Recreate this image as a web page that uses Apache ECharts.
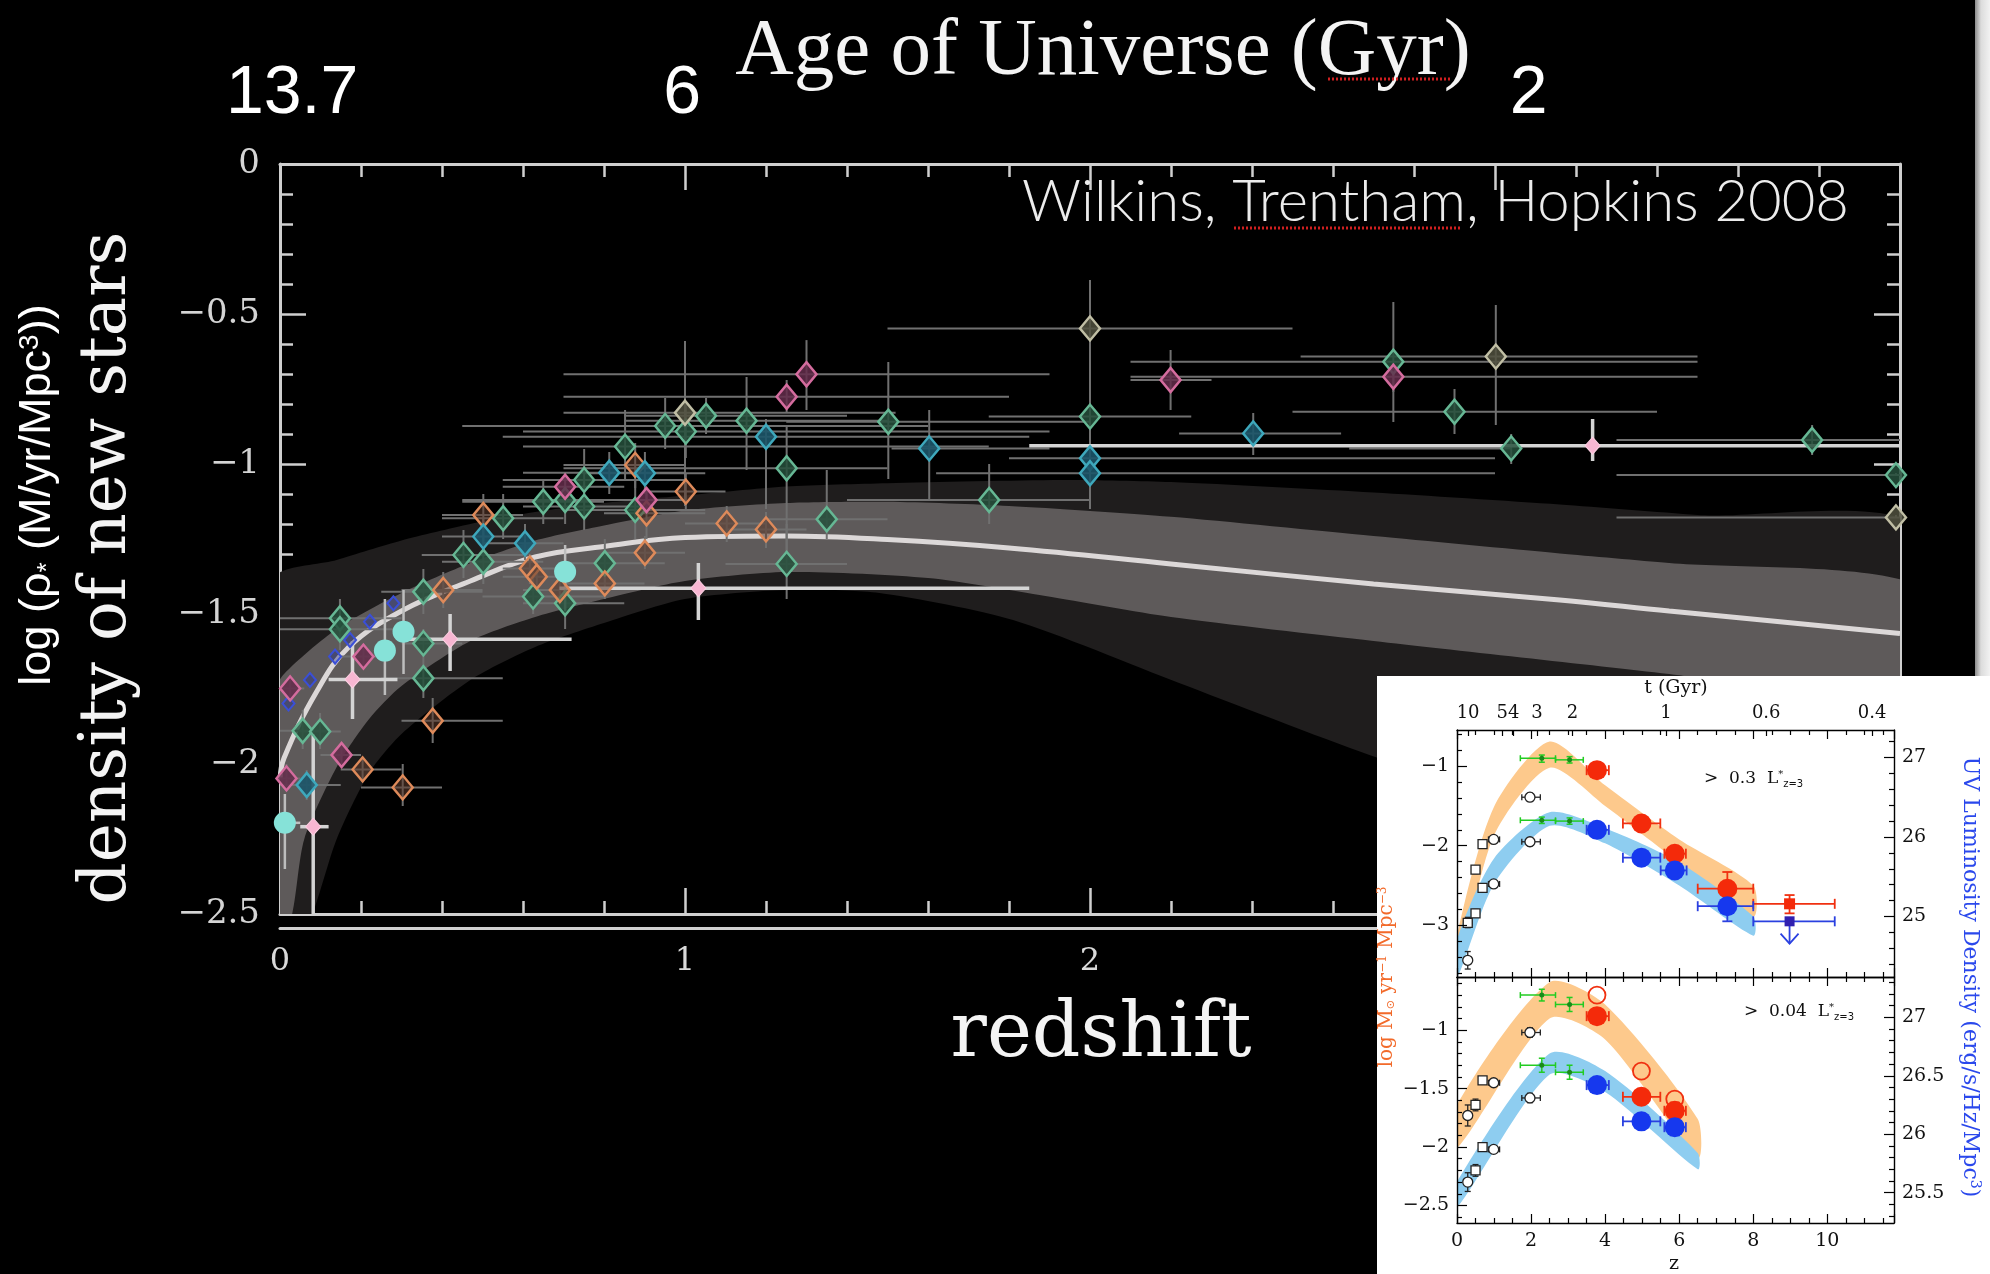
<!DOCTYPE html>
<html><head><meta charset="utf-8">
<script src="https://cdn.jsdelivr.net/npm/echarts@6/dist/echarts.min.js"></script>
<style>html,body{margin:0;padding:0;background:#000;}#c{width:1990px;height:1274px;}</style>
</head><body><div id="c"></div>
<script>
// ================= MAIN CHART DATA =================
const ageTickZ = [0.03, 0.993, 3.083];
const ageTickLabels = ['13.7', '6', '2'];

// uncertainty bands [z, log rho]
const outerBandUpper = [[-0.02,-1.39],[0.14,-1.32],[0.3,-1.255],[0.47,-1.2],[0.63,-1.16],[0.8,-1.13],[1.0,-1.105],[1.25,-1.075],[1.5,-1.064],[1.93,-1.053],[2.2,-1.06],[2.7,-1.095],[3.16,-1.135],[3.5,-1.17],[4.05,-1.225]];
const outerBandLower = [[-0.02,-2.8],[0.08,-2.5],[0.14,-2.25],[0.22,-2.03],[0.3,-1.9],[0.47,-1.72],[0.63,-1.61],[0.8,-1.53],[1.0,-1.45],[1.25,-1.42],[1.48,-1.43],[1.81,-1.52],[2.22,-1.73],[2.69,-1.97],[3.2,-2.2],[3.8,-2.45],[4.05,-2.55]];
const innerBandUpper = [[-0.02,-1.78],[0.01,-1.70],[0.14,-1.55],[0.3,-1.43],[0.47,-1.33],[0.63,-1.255],[0.8,-1.205],[1.0,-1.155],[1.25,-1.13],[1.5,-1.126],[1.8,-1.14],[2.2,-1.176],[2.7,-1.24],[3.16,-1.298],[3.43,-1.33],[4.05,-1.41]];
const innerBandLower = [[-0.02,-2.7],[0.03,-2.5],[0.06,-2.25],[0.14,-2.01],[0.22,-1.85],[0.3,-1.74],[0.47,-1.59],[0.63,-1.51],[0.8,-1.45],[1.0,-1.39],[1.25,-1.36],[1.6,-1.38],[1.89,-1.44],[2.2,-1.51],[2.7,-1.59],[3.43,-1.70],[4.05,-1.80]];
const fitLine = [[0,-2.05],[0.01,-1.98],[0.09,-1.76],[0.17,-1.61],[0.3,-1.49],[0.47,-1.39],[0.63,-1.31],[0.8,-1.275],[1.0,-1.245],[1.25,-1.24],[1.5,-1.252],[1.8,-1.28],[2.2,-1.333],[2.7,-1.40],[3.16,-1.453],[3.43,-1.49],[4.0,-1.565]];

// points: [z, value, zLow, zHigh, valueLow, valueHigh]
const greenDiamonds = [
 [0.704,-1.120,0.45,0.95,-1.20,-1.04],[0.751,-1.053,0.55,1.00,-1.15,-0.95],[0.751,-1.142,0.60,0.90,-1.22,-1.06],
 [0.852,-0.942,0.60,1.75,-1.05,-0.82],[0.877,-1.153,0.70,1.05,-1.25,-1.05],[0.951,-0.873,0.45,1.60,-0.95,-0.78],
 [1.002,-0.892,0.60,1.90,-0.98,-0.80],[1.052,-0.839,0.85,1.40,-0.90,-0.78],[1.152,-0.856,0.85,1.50,-1.02,-0.71],
 [1.251,-1.014,0.70,1.50,-1.30,-0.87],[1.350,-1.184,1.20,1.50,-1.25,-1.02],[1.251,-1.333,1.10,1.40,-1.45,-1.20],
 [0.802,-1.331,0.70,0.95,-1.40,-1.25],[1.502,-0.859,1.25,2.00,-1.05,-0.66],[1.751,-1.120,1.40,2.00,-1.20,-1.00],
 [2.000,-0.842,1.75,2.25,-1.00,-0.70],[2.749,-0.659,2.10,3.50,-0.86,-0.46],[2.900,-0.826,2.50,3.40,-0.90,-0.75],
 [3.040,-0.948,2.64,3.04,-1.00,-0.90],[3.783,-0.920,3.30,4.00,-0.97,-0.87],[3.990,-1.037,3.30,4.00,-1.04,-1.03],
 [0.650,-1.126,0.45,0.80,-1.20,-1.05],[0.551,-1.181,0.40,0.70,-1.25,-1.10],[0.453,-1.303,0.35,0.60,-1.38,-1.22],
 [0.502,-1.326,0.40,0.65,-1.40,-1.25],[0.625,-1.442,0.50,0.80,-1.50,-1.35],[0.704,-1.464,0.60,0.85,-1.55,-1.40],
 [0.354,-1.426,0.25,0.50,-1.50,-1.35],[0.148,-1.514,0.00,0.30,-1.60,-1.45],[0.148,-1.551,0.00,0.30,-1.62,-1.48],
 [0.354,-1.598,0.30,0.45,-1.65,-1.55],[0.354,-1.714,0.25,0.55,-1.78,-1.65],[0.056,-1.889,0.00,0.12,-1.95,-1.82],
 [0.099,-1.892,0.05,0.15,-1.95,-1.83]
];
const orangeDiamonds = [
 [0.877,-1.003,0.70,1.00,-1.08,-0.93],[0.905,-1.164,0.80,1.05,-1.25,-1.10],[1.002,-1.092,0.90,1.10,-1.15,-1.03],
 [1.103,-1.198,1.00,1.20,-1.26,-1.14],[1.200,-1.218,1.10,1.30,-1.28,-1.16],[0.901,-1.296,0.80,1.00,-1.35,-1.24],
 [0.802,-1.398,0.70,0.90,-1.45,-1.35],[0.502,-1.170,0.40,0.60,-1.25,-1.10],[0.617,-1.348,0.55,0.70,-1.40,-1.30],
 [0.634,-1.376,0.55,0.70,-1.43,-1.32],[0.691,-1.420,0.60,0.80,-1.47,-1.37],[0.403,-1.420,0.30,0.50,-1.48,-1.36],
 [0.377,-1.856,0.30,0.55,-1.93,-1.78],[0.204,-2.018,0.15,0.30,-2.06,-1.98],[0.303,-2.078,0.20,0.40,-2.14,-2.00]
];
const pinkDiamonds = [
 [1.300,-0.701,0.70,1.90,-0.82,-0.587],[1.251,-0.776,0.70,1.80,-0.83,-0.72],[0.704,-1.076,0.55,0.85,-1.12,-1.03],
 [0.905,-1.120,0.80,1.00,-1.16,-1.08],[2.199,-0.720,2.10,2.30,-0.82,-0.62],[2.749,-0.709,2.10,3.50,-0.76,-0.66],
 [0.206,-1.642,0.15,0.27,-1.68,-1.60],[0.025,-1.748,0.00,0.06,-1.79,-1.71],[0.152,-1.970,0.10,0.20,-2.00,-1.94],
 [0.016,-2.048,0.00,0.05,-2.09,-2.00]
];
const cyanDiamonds = [
 [0.813,-1.029,0.60,1.00,-1.10,-0.96],[0.901,-1.031,0.75,1.05,-1.10,-0.96],[1.200,-0.909,0.55,1.85,-1.15,-0.85],
 [1.603,-0.948,1.51,1.90,-1.12,-0.82],[2.000,-0.981,1.80,3.00,-1.05,-0.93],[2.000,-1.031,1.62,3.00,-1.15,-0.95],
 [2.403,-0.898,2.22,2.62,-0.97,-0.83],[0.502,-1.242,0.40,0.60,-1.30,-1.18],[0.605,-1.264,0.50,0.70,-1.32,-1.20],
 [0.066,-2.070,0.00,0.15,-2.12,-2.02]
];
const khakiDiamonds = [
 [2.000,-0.548,1.50,2.50,-1.15,-0.387],[3.002,-0.642,2.52,3.50,-0.87,-0.47],[1.000,-0.829,0.70,1.52,-1.14,-0.59],
 [3.990,-1.178,3.30,4.00,-1.18,-1.17]
];
const pinkStars = [
 [1.033,-1.414,0.69,1.85,-1.52,-1.33],[3.241,-0.939,1.85,4.00,-0.99,-0.85],[0.420,-1.584,0.31,0.72,-1.69,-1.50],
 [0.179,-1.718,0.12,0.29,-1.85,-1.59],[0.082,-2.209,0.05,0.12,-2.50,-1.90]
];
const cyanCircles = [
 [0.704,-1.359,0.704,0.704,-1.49,-1.27],[0.305,-1.559,0.305,0.305,-1.70,-1.42],
 [0.259,-1.622,0.259,0.259,-1.77,-1.45],[0.012,-2.196,0.00,0.05,-2.35,-2.10]
];
const blueDiamonds = [
 [0.021,-1.798],[0.074,-1.720],[0.136,-1.642],[0.173,-1.587],[0.222,-1.526],[0.280,-1.464]
];

// ================= INSET DATA =================
const tTickZ = [0.30,1.22,1.53,2.16,3.12,5.64,8.35,11.21];
const tTickLabels = ['10','5','4','3','2','1','0.6','0.4'];
const insetTopLeftTicks = [-3,-2,-1];
const insetTopLeftMinor = [-3.6,-3.4,-3.2,-2.8,-2.6,-2.4,-2.2,-1.8,-1.6,-1.4,-1.2,-0.8,-0.6];
const insetTopRightTicks = [25,26,27];
const insetTopRightMinor = [24.4,24.6,24.8,25.2,25.4,25.6,25.8,26.2,26.4,26.6,26.8,27.2];
const insetBotLeftTicks = [-2.5,-2,-1.5,-1];
const insetBotLeftMinor = [-2.6,-2.4,-2.3,-2.2,-2.1,-1.9,-1.8,-1.7,-1.6,-1.4,-1.3,-1.2,-1.1,-0.9,-0.8,-0.7,-0.6];
const insetBotRightTicks = [25.5,26,26.5,27];
const insetBotRightMinor = [25.3,25.4,25.6,25.7,25.8,25.9,26.1,26.2,26.3,26.4,26.6,26.7,26.8,26.9,27.1,27.2,27.3];

const orangeTopUpper = [[0,-3.13],[1,-1.51],[2.5,-0.69],[4,-1.24],[6,-1.92],[8,-2.5]];
const orangeTopLower = [[0,-3.6],[1,-1.87],[2.5,-1.02],[4,-1.5],[6,-2.21],[8,-2.89]];
const blueTopUpper = [[0,-3.18],[1,-2.16],[2.5,-1.58],[4,-1.78],[6,-2.21],[8,-2.89]];
const blueTopLower = [[0,-3.66],[1,-2.48],[2.5,-1.75],[4,-1.97],[6,-2.5],[8,-3.13]];
const orangeBotUpper = [[0,-1.64],[2.5,-0.59],[4,-0.78],[6.5,-1.76]];
const orangeBotLower = [[0,-2.01],[2.5,-0.90],[4,-1.08],[6.5,-2.09]];
const blueBotUpper = [[0,-2.30],[2.5,-1.20],[4,-1.35],[6.5,-2.05]];
const blueBotLower = [[0,-2.52],[2.5,-1.38],[4,-1.53],[6.5,-2.19]];

const blackSqTop = [[0.29,-2.97,0.2,0.4,-3.03,-2.9],[0.50,-2.85,0.42,0.58,-2.9,-2.8],[0.69,-1.98,0.62,0.76,-2.03,-1.93],[0.50,-2.30,0.44,0.56,-2.35,-2.25],[0.69,-2.53,0.62,0.76,-2.57,-2.49]];
const blackCircTop = [[0.29,-3.44,0.2,0.38,-3.55,-3.33],[0.99,-1.92,0.85,1.15,-1.96,-1.88],[0.99,-2.48,0.85,1.15,-2.52,-2.44],[1.97,-1.39,1.75,2.25,-1.44,-1.34],[1.97,-1.95,1.75,2.25,-2.0,-1.9]];
const greenTop = [[2.29,-0.90,1.71,2.66,-0.95,-0.86],[3.04,-0.92,2.66,3.41,-0.96,-0.88],[2.29,-1.68,1.71,2.66,-1.72,-1.64],[3.04,-1.69,2.66,3.41,-1.73,-1.65]];
const redTop = [[3.78,-1.05,3.5,4.1,-1.1,-1.0],[4.98,-1.72,4.48,5.49,-1.78,-1.66],[5.88,-2.10,5.6,6.18,-2.17,-2.03],[7.30,-2.54,6.5,8.0,-2.75,-2.33]];
const redSqTop = [[8.98,-2.73,8.0,10.2,-2.85,-2.62]];
const blueTop = [[3.78,-1.80,3.5,4.1,-1.85,-1.75],[4.98,-2.15,4.48,5.49,-2.2,-2.1],[5.88,-2.31,5.5,6.2,-2.38,-2.24],[7.30,-2.76,6.5,8.0,-2.95,-2.6]];
const blueSqTop = [[8.98,-2.95,8.0,10.2,-2.95,-2.95]];
const blueLimitTop = [[8.98,-2.95,-3.23]];

const blackSqBot = [[0.50,-1.64,0.44,0.56,-1.69,-1.59],[0.69,-1.43,0.62,0.76,-1.46,-1.40],[0.50,-2.20,0.44,0.56,-2.25,-2.15],[0.69,-2.00,0.62,0.76,-2.03,-1.97]];
const blackCircBot = [[0.29,-1.73,0.2,0.38,-1.82,-1.64],[0.99,-1.45,0.85,1.15,-1.48,-1.42],[1.97,-1.02,1.75,2.25,-1.06,-0.98],[1.97,-1.58,1.75,2.25,-1.62,-1.54],[0.29,-2.30,0.2,0.38,-2.38,-2.22],[0.99,-2.02,0.85,1.15,-2.05,-1.99]];
const greenBot = [[2.29,-0.70,1.71,2.66,-0.75,-0.65],[3.04,-0.78,2.66,3.41,-0.84,-0.72],[2.29,-1.30,1.71,2.66,-1.36,-1.24],[3.04,-1.36,2.66,3.41,-1.42,-1.30]];
const redBot = [[3.78,-0.88,3.5,4.1,-0.93,-0.83],[4.98,-1.57,4.48,5.49,-1.63,-1.51],[5.88,-1.69,5.6,6.18,-1.76,-1.62]];
const redOpenBot = [[3.78,-0.70],[4.98,-1.35],[5.88,-1.59]];
const blueBot = [[3.78,-1.47,3.5,4.1,-1.5,-1.44],[4.98,-1.78,4.48,5.49,-1.82,-1.74],[5.88,-1.83,5.6,6.18,-1.9,-1.76]];

// ================= BUILD =================
const chart = echarts.init(document.getElementById('c'), null, {renderer: 'canvas'});
const MINUS = v => (v < 0 ? '\u2212' + String(Math.abs(v)) : String(v));
const frameLine = {color: '#cfcfcf', width: 3};
const frameTick = {color: '#cfcfcf', width: 2.5};
const inkLine = {color: '#000', width: 1.4};

function band(upper, lower, color, xi, yi, z, zlevel) {
  return {type: 'custom', xAxisIndex: xi, yAxisIndex: yi, z: z, zlevel: zlevel, clip: true, silent: true,
    data: [upper[0]],
    renderItem: function (params, api) {
      const pts = upper.map(p => api.coord(p)).concat(lower.slice().reverse().map(p => api.coord(p)));
      return {type: 'polygon', shape: {points: pts, smooth: 0.25}, style: {fill: color}};
    }};
}
function errBars(data, color, width, xi, yi, z, zlevel, cap) {
  return {type: 'custom', xAxisIndex: xi, yAxisIndex: yi, z: z, zlevel: zlevel, clip: true, silent: true,
    data: data,
    renderItem: function (params, api) {
      const x = api.value(0), y = api.value(1), xl = api.value(2), xh = api.value(3), yl = api.value(4), yh = api.value(5);
      const st = {stroke: color, lineWidth: width};
      const c = [];
      if (xh > xl) {
        const a = api.coord([xl, y]), b = api.coord([xh, y]);
        c.push({type: 'line', shape: {x1: a[0], y1: a[1], x2: b[0], y2: b[1]}, style: st});
        if (cap) {
          c.push({type: 'line', shape: {x1: a[0], y1: a[1] - cap, x2: a[0], y2: a[1] + cap}, style: st});
          c.push({type: 'line', shape: {x1: b[0], y1: b[1] - cap, x2: b[0], y2: b[1] + cap}, style: st});
        }
      }
      if (yh > yl) {
        const a = api.coord([x, yl]), b = api.coord([x, yh]);
        c.push({type: 'line', shape: {x1: a[0], y1: a[1], x2: b[0], y2: b[1]}, style: st});
        if (cap) {
          c.push({type: 'line', shape: {x1: a[0] - cap, y1: a[1], x2: a[0] + cap, y2: a[1]}, style: st});
          c.push({type: 'line', shape: {x1: b[0] - cap, y1: b[1], x2: b[0] + cap, y2: b[1]}, style: st});
        }
      }
      return {type: 'group', children: c};
    }};
}
function marks(data, symbol, size, fill, border, bw, xi, yi, z, zlevel) {
  return {type: 'scatter', xAxisIndex: xi, yAxisIndex: yi, z: z, zlevel: zlevel, silent: true, clip: true,
    symbol: symbol, symbolSize: size,
    itemStyle: {color: fill, borderColor: border, borderWidth: bw, opacity: 1},
    data: data.map(d => [d[0], d[1]])};
}
function tickAxis(base) { return Object.assign({type: 'value', splitLine: {show: false}, minorSplitLine: {show: false}}, base); }

const xAxes = [
  // 0 main bottom
  tickAxis({gridIndex: 0, min: 0, max: 4, interval: 1, position: 'bottom',
    axisLine: {show: true, onZero: false, lineStyle: frameLine},
    axisTick: {show: true, inside: true, length: 26, lineStyle: frameTick},
    minorTick: {show: true, splitNumber: 5, length: 13, lineStyle: frameTick},
    axisLabel: {show: true, margin: 32, color: '#d9d9d9', fontFamily: 'DejaVu Serif', fontSize: 32}}),
  // 1 main bottom outer line
  tickAxis({gridIndex: 0, min: 0, max: 4, position: 'bottom', offset: 14,
    axisLine: {show: true, onZero: false, lineStyle: frameLine}, axisTick: {show: false}, axisLabel: {show: false}}),
  // 2 main top frame
  tickAxis({gridIndex: 0, min: 0, max: 4, interval: 1, position: 'top',
    axisLine: {show: true, onZero: false, lineStyle: frameLine},
    axisTick: {show: true, inside: true, length: 26, lineStyle: frameTick},
    minorTick: {show: true, splitNumber: 5, length: 13, lineStyle: frameTick},
    axisLabel: {show: false}}),
  // 3 age labels
  tickAxis({gridIndex: 0, min: 0, max: 4, position: 'top',
    axisLine: {show: false}, axisTick: {show: false},
    axisLabel: {show: true, customValues: ageTickZ, margin: 36, color: '#ffffff',
      fontFamily: '"Liberation Sans Narrow", "Liberation Sans", sans-serif', fontSize: 68,
      formatter: function (v) { let i = 0, best = 1e9; ageTickZ.forEach((t, k) => { if (Math.abs(t - v) < best) { best = Math.abs(t - v); i = k; } }); return ageTickLabels[i]; }}}),
  // 4 inset top panel bottom (divider)
  tickAxis({gridIndex: 1, min: 0, max: 11.8, interval: 2, position: 'bottom', zlevel: 1, z: 20,
    axisLine: {show: true, onZero: false, lineStyle: inkLine},
    axisTick: {show: true, inside: true, length: 9, lineStyle: {color: '#000', width: 1.2}},
    minorTick: {show: true, splitNumber: 4, length: 5, lineStyle: {color: '#000', width: 1.2}},
    axisLabel: {show: false}}),
  // 5 inset top panel top frame
  tickAxis({gridIndex: 1, min: 0, max: 11.8, interval: 2, position: 'top', zlevel: 1, z: 20,
    axisLine: {show: true, onZero: false, lineStyle: inkLine},
    axisTick: {show: true, inside: true, length: 9, lineStyle: {color: '#000', width: 1.2}},
    minorTick: {show: true, splitNumber: 4, length: 5, lineStyle: {color: '#000', width: 1.2}},
    axisLabel: {show: false}}),
  // 6 inset t (Gyr) labels
  tickAxis({gridIndex: 1, min: 0, max: 11.8, position: 'top', zlevel: 1, z: 20,
    axisLine: {show: false},
    axisTick: {show: true, inside: true, length: 6, customValues: tTickZ, lineStyle: {color: '#000', width: 1.2}},
    axisLabel: {show: true, customValues: tTickZ, margin: 8, color: '#111', fontFamily: 'DejaVu Serif', fontSize: 18,
      formatter: function (v) { let i = 0, best = 1e9; tTickZ.forEach((t, k) => { if (Math.abs(t - v) < best) { best = Math.abs(t - v); i = k; } }); return tTickLabels[i]; }}}),
  // 7 inset bottom panel bottom
  tickAxis({gridIndex: 2, min: 0, max: 11.8, interval: 2, position: 'bottom', zlevel: 1, z: 20,
    axisLine: {show: true, onZero: false, lineStyle: inkLine},
    axisTick: {show: true, inside: true, length: 9, lineStyle: {color: '#000', width: 1.2}},
    minorTick: {show: true, splitNumber: 4, length: 5, lineStyle: {color: '#000', width: 1.2}},
    axisLabel: {show: true, showMaxLabel: false, margin: 9, color: '#111', fontFamily: 'DejaVu Serif', fontSize: 19}}),
  // 8 inset bottom panel top
  tickAxis({gridIndex: 2, min: 0, max: 11.8, interval: 2, position: 'top', zlevel: 1, z: 20,
    axisLine: {show: true, onZero: false, lineStyle: inkLine},
    axisTick: {show: true, inside: true, length: 9, lineStyle: {color: '#000', width: 1.2}},
    minorTick: {show: true, splitNumber: 4, length: 5, lineStyle: {color: '#000', width: 1.2}},
    axisLabel: {show: false}})
];

function insetY(grid, pos, min, max, ticks, showLabel, len) {
  return tickAxis({gridIndex: grid, position: pos, min: min, max: max, zlevel: 1, z: 20,
    axisLine: {show: showLabel, onZero: false, lineStyle: inkLine},
    axisTick: {show: true, inside: true, length: len, customValues: ticks, lineStyle: {color: '#000', width: 1.2}},
    axisLabel: {show: showLabel, customValues: ticks, margin: 8, color: '#111', fontFamily: 'DejaVu Serif', fontSize: 19, formatter: MINUS}});
}
const yAxes = [
  // 0 main left
  tickAxis({gridIndex: 0, min: -2.5, max: 0, interval: 0.5, position: 'left',
    axisLine: {show: true, onZero: false, lineStyle: frameLine},
    axisTick: {show: true, inside: true, length: 26, lineStyle: frameTick},
    minorTick: {show: true, splitNumber: 5, length: 13, lineStyle: frameTick},
    axisLabel: {show: true, margin: 20, color: '#d4d4d4', fontFamily: 'DejaVu Serif', fontSize: 34, formatter: MINUS}}),
  // 1 main right
  tickAxis({gridIndex: 0, min: -2.5, max: 0, interval: 0.5, position: 'right',
    axisLine: {show: true, onZero: false, lineStyle: frameLine},
    axisTick: {show: true, inside: true, length: 26, lineStyle: frameTick},
    minorTick: {show: true, splitNumber: 5, length: 13, lineStyle: frameTick},
    axisLabel: {show: false}}),
  insetY(1, 'left', -3.65, -0.545, insetTopLeftTicks, true, 10),      // 2
  insetY(1, 'left', -3.65, -0.545, insetTopLeftMinor, false, 5),      // 3
  insetY(1, 'right', 24.24, 27.345, insetTopRightTicks, true, 10),    // 4
  insetY(1, 'right', 24.24, 27.345, insetTopRightMinor, false, 5),    // 5
  insetY(2, 'left', -2.65, -0.545, insetBotLeftTicks, true, 10),      // 6
  insetY(2, 'left', -2.65, -0.545, insetBotLeftMinor, false, 5),      // 7
  insetY(2, 'right', 25.24, 27.345, insetBotRightTicks, true, 10),    // 8
  insetY(2, 'right', 25.24, 27.345, insetBotRightMinor, false, 5)     // 9
];

const GREY = '#707070';
const series = [
  band(outerBandUpper, outerBandLower, '#1f1d1d', 0, 0, 1, 0),
  band(innerBandUpper, innerBandLower, '#5e5a5a', 0, 0, 2, 0),
  {type: 'line', xAxisIndex: 0, yAxisIndex: 0, z: 3, silent: true, smooth: 0.4, symbol: 'none',
   lineStyle: {color: '#dcd8d8', width: 5}, data: fitLine},
  errBars(greenDiamonds, GREY, 2, 0, 0, 4, 0, 0),
  errBars(orangeDiamonds, GREY, 2, 0, 0, 4, 0, 0),
  errBars(pinkDiamonds, GREY, 2, 0, 0, 4, 0, 0),
  errBars(cyanDiamonds, GREY, 2, 0, 0, 4, 0, 0),
  errBars(khakiDiamonds, GREY, 2, 0, 0, 4, 0, 0),
  errBars(cyanCircles, '#bdbdbd', 2.5, 0, 0, 4, 0, 0),
  errBars(pinkStars, '#d4d4d4', 3.5, 0, 0, 5, 0, 0),
  marks(blueDiamonds, 'diamond', [12, 14], 'rgba(40,50,140,0.4)', '#3a4fd8', 2, 0, 0, 6, 0),
  marks(greenDiamonds, 'diamond', [20, 24], 'rgba(38,80,60,0.85)', '#66b794', 2.5, 0, 0, 6, 0),
  marks(orangeDiamonds, 'diamond', [20, 24], 'rgba(95,60,45,0.55)', '#de8a5a', 2.5, 0, 0, 6, 0),
  marks(pinkDiamonds, 'diamond', [20, 24], 'rgba(100,45,75,0.85)', '#d46c9e', 2.5, 0, 0, 6, 0),
  marks(cyanDiamonds, 'diamond', [20, 24], 'rgba(28,85,105,0.9)', '#3ea8bc', 2.5, 0, 0, 6, 0),
  marks(khakiDiamonds, 'diamond', [20, 24], 'rgba(80,80,62,0.85)', '#c0bea4', 2.5, 0, 0, 6, 0),
  marks(cyanCircles, 'circle', 22, '#86e2d8', '#86e2d8', 0, 0, 0, 7, 0),
  marks(pinkStars, 'diamond', [15, 17], '#f8b6d2', '#fcd0e2', 1, 0, 0, 7, 0),

  // ----- inset top panel -----
  band(orangeTopUpper, orangeTopLower, '#fdc98c', 4, 2, 10, 1),
  band(blueTopUpper, blueTopLower, '#8ecdf0', 4, 2, 11, 1),
  errBars(blackSqTop, '#222', 1.3, 4, 2, 12, 1, 3),
  errBars(blackCircTop, '#222', 1.3, 4, 2, 12, 1, 3),
  errBars(greenTop, '#22cc22', 1.5, 4, 2, 12, 1, 3),
  errBars(redTop, '#f03010', 1.8, 4, 2, 12, 1, 5),
  errBars(redSqTop, '#f03010', 1.8, 4, 2, 12, 1, 5),
  errBars(blueTop, '#2a40e0', 1.8, 4, 2, 12, 1, 5),
  errBars(blueSqTop, '#2a40e0', 1.8, 4, 2, 12, 1, 5),
  {type: 'custom', xAxisIndex: 4, yAxisIndex: 2, z: 12, zlevel: 1, silent: true, data: blueLimitTop,
   renderItem: function (params, api) {
     const a = api.coord([api.value(0), api.value(1)]), b = api.coord([api.value(0), api.value(2)]);
     const st = {stroke: '#2a40e0', lineWidth: 1.8};
     return {type: 'group', children: [
       {type: 'line', shape: {x1: a[0], y1: a[1], x2: b[0], y2: b[1]}, style: st},
       {type: 'polyline', shape: {points: [[b[0] - 9, b[1] - 10], [b[0], b[1]], [b[0] + 9, b[1] - 10]]}, style: Object.assign({fill: null}, st)}]};
   }},
  marks(blackSqTop, 'rect', 9, '#fff', '#222', 1.3, 4, 2, 13, 1),
  marks(blackCircTop, 'circle', 10, '#fff', '#222', 1.3, 4, 2, 13, 1),
  marks(greenTop, 'circle', 5, '#1a8a1a', '#1a8a1a', 0, 4, 2, 13, 1),
  marks(redTop, 'circle', 20, '#f42a0a', '#f42a0a', 0, 4, 2, 13, 1),
  marks(redSqTop, 'rect', 11, '#f42a0a', '#f42a0a', 0, 4, 2, 13, 1),
  marks(blueTop, 'circle', 20, '#1638ee', '#1638ee', 0, 4, 2, 13, 1),
  marks(blueSqTop, 'rect', 10, '#3020b0', '#3020b0', 0, 4, 2, 13, 1),

  // ----- inset bottom panel -----
  band(orangeBotUpper, orangeBotLower, '#fdc98c', 7, 6, 10, 1),
  band(blueBotUpper, blueBotLower, '#8ecdf0', 7, 6, 11, 1),
  errBars(blackSqBot, '#222', 1.3, 7, 6, 12, 1, 3),
  errBars(blackCircBot, '#222', 1.3, 7, 6, 12, 1, 3),
  errBars(greenBot, '#22cc22', 1.5, 7, 6, 12, 1, 3),
  errBars(redBot, '#f03010', 1.8, 7, 6, 12, 1, 5),
  errBars(blueBot, '#2a40e0', 1.8, 7, 6, 12, 1, 5),
  marks(blackSqBot, 'rect', 9, '#fff', '#222', 1.3, 7, 6, 13, 1),
  marks(blackCircBot, 'circle', 10, '#fff', '#222', 1.3, 7, 6, 13, 1),
  marks(greenBot, 'circle', 5, '#1a8a1a', '#1a8a1a', 0, 7, 6, 13, 1),
  marks(redOpenBot, 'circle', 17, 'rgba(0,0,0,0)', '#f03010', 1.8, 7, 6, 13, 1),
  marks(redBot, 'circle', 20, '#f42a0a', '#f42a0a', 0, 7, 6, 13, 1),
  marks(blueBot, 'circle', 20, '#1638ee', '#1638ee', 0, 7, 6, 13, 1)
];

const graphic = [
  // right slide edge
  {type: 'rect', shape: {x: 1975, y: 0, width: 15, height: 676}, z: 50,
   style: {fill: new echarts.graphic.LinearGradient(0, 0, 1, 0, [{offset: 0, color: '#8a8a8a'}, {offset: 0.4, color: '#dcdcdc'}, {offset: 1, color: '#f2f2f2'}])}},
  {type: 'text', x: 1103, y: 53, z: 50, style: {text: 'Age of Universe (Gyr)', fill: '#f4f4f4', font: '81px "Liberation Serif", serif', textAlign: 'center', textVerticalAlign: 'middle'}},
  {type: 'line', z: 51, shape: {x1: 1328, y1: 79, x2: 1452, y2: 79}, style: {stroke: '#d02020', lineWidth: 3, lineDash: [2, 2]}},
  {type: 'text', x: 1849, y: 202, z: 50, style: {text: 'Wilkins, Trentham, Hopkins 2008', fill: '#ececec', font: '300 58px Lato, sans-serif', textAlign: 'right', textVerticalAlign: 'middle'}},
  {type: 'line', z: 51, shape: {x1: 1234, y1: 228, x2: 1462, y2: 228}, style: {stroke: '#d02020', lineWidth: 3, lineDash: [2, 2]}},
  {type: 'text', x: 1101, y: 1036, z: 50, style: {text: 'redshift', fill: '#f4f4f4', font: '76px "DejaVu Serif", serif', textAlign: 'center', textVerticalAlign: 'middle'}},
  {type: 'text', x: 108, y: 568, rotation: Math.PI / 2, z: 50, style: {text: 'density of new stars', fill: '#f4f4f4', font: '66px "DejaVu Serif", serif', textAlign: 'center', textVerticalAlign: 'middle'}},
  {type: 'text', x: 38, y: 495, rotation: Math.PI / 2, z: 50, style: {
    text: '{a|log (\u03c1}{s|*}{a| (M/yr/Mpc}{p|3}{a|))}', textAlign: 'center', textVerticalAlign: 'middle',
    rich: {a: {fill: '#ffffff', fontFamily: '"Liberation Sans", Arial, sans-serif', fontSize: 45},
           s: {fill: '#ffffff', fontFamily: '"Liberation Sans", Arial, sans-serif', fontSize: 26, verticalAlign: 'bottom', padding: [19, 0, 0, 0]},
           p: {fill: '#ffffff', fontFamily: '"Liberation Sans", Arial, sans-serif', fontSize: 28, padding: [0, 0, 15, 0]}}}},

  // inset background (above main chart, below inset)
  {type: 'rect', zlevel: 1, z: 0, shape: {x: 1377, y: 676, width: 613, height: 598}, style: {fill: '#ffffff'}},
  {type: 'text', zlevel: 1, z: 100, x: 1676, y: 688, style: {text: 't (Gyr)', fill: '#111', font: '19px "DejaVu Serif", serif', textAlign: 'center', textVerticalAlign: 'middle'}},
  {type: 'text', zlevel: 1, z: 100, x: 1674, y: 1264, style: {text: 'z', fill: '#111', font: '19px "DejaVu Serif", serif', textAlign: 'center', textVerticalAlign: 'middle'}},
  {type: 'text', zlevel: 1, z: 100, x: 1704, y: 779, style: {
    text: '{a|>  0.3  L}{s|*}{b|z=3}', textAlign: 'left', textVerticalAlign: 'middle',
    rich: {a: {fill: '#111', fontFamily: 'DejaVu Serif', fontSize: 17}, s: {fill: '#111', fontFamily: 'DejaVu Serif', fontSize: 10, padding: [0, 0, 10, 0]}, b: {fill: '#111', fontFamily: 'DejaVu Sans', fontSize: 10, padding: [10, 0, 0, 0]}}}},
  {type: 'text', zlevel: 1, z: 100, x: 1744, y: 1012, style: {
    text: '{a|>  0.04  L}{s|*}{b|z=3}', textAlign: 'left', textVerticalAlign: 'middle',
    rich: {a: {fill: '#111', fontFamily: 'DejaVu Serif', fontSize: 17}, s: {fill: '#111', fontFamily: 'DejaVu Serif', fontSize: 10, padding: [0, 0, 10, 0]}, b: {fill: '#111', fontFamily: 'DejaVu Sans', fontSize: 10, padding: [10, 0, 0, 0]}}}},
  {type: 'text', zlevel: 1, z: 100, x: 1387, y: 977, rotation: Math.PI / 2, style: {
    text: '{a|log M}{s|\u2299}{a| yr}{p|\u22121}{a| Mpc}{p|\u22123}', textAlign: 'center', textVerticalAlign: 'middle',
    rich: {a: {fill: '#f26a2a', fontFamily: 'DejaVu Serif', fontSize: 20}, s: {fill: '#f26a2a', fontFamily: 'DejaVu Sans', fontSize: 11, padding: [9, 0, 0, 0]}, p: {fill: '#f26a2a', fontFamily: 'DejaVu Serif', fontSize: 12, padding: [0, 0, 9, 0]}}}},
  {type: 'text', zlevel: 1, z: 100, x: 1970, y: 977, rotation: -Math.PI / 2, style: {
    text: '{a|UV Luminosity Density (erg/s/Hz/Mpc}{p|3}{a|)}', textAlign: 'center', textVerticalAlign: 'middle',
    rich: {a: {fill: '#2a48ec', fontFamily: 'DejaVu Serif', fontSize: 22}, p: {fill: '#2a48ec', fontFamily: 'DejaVu Serif', fontSize: 14, padding: [0, 0, 10, 0]}}}}
];

chart.setOption({
  backgroundColor: '#000000',
  animation: false,
  grid: [
    {left: 280, top: 164, width: 1620, height: 750, containLabel: false},
    {left: 1457, top: 730, width: 437, height: 247, containLabel: false},
    {left: 1457, top: 977, width: 437, height: 246, containLabel: false}
  ],
  xAxis: xAxes,
  yAxis: yAxes,
  series: series,
  graphic: graphic
});
</script></body></html>
